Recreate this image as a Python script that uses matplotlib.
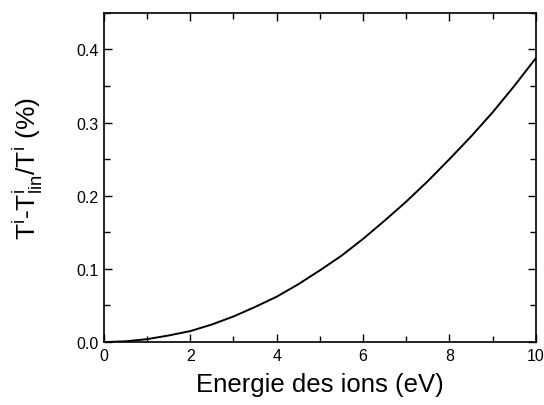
import numpy as np
from matplotlib import pyplot as plt
from matplotlib.ticker import MultipleLocator

# values
energie = [0, 0.5, 1, 1.5, 2, 2.5, 3, 3.5, 4, 4.5, 5,
           5.5, 6, 6.5, 7, 7.5, 8, 8.5, 9, 9.5, 10]
ecart = [0, 0.001, 0.004, 0.009, 0.015, 0.024, 0.035, 0.048, 0.062, 0.079, 0.098,
         0.118, 0.141, 0.166, 0.192, 0.220, 0.250, 0.281, 0.314, 0.350, 0.388]

plt.rcParams['font.family'] = ['Liberation Sans', 'DejaVu Sans']
plt.rcParams['mathtext.fontset'] = 'custom'
plt.rcParams['mathtext.rm'] = 'Liberation Sans'
plt.rcParams['mathtext.it'] = 'Liberation Sans'

fig = plt.figure(figsize=(5.44, 4.06), dpi=100)
ax = fig.add_axes([0.191, 0.155, 0.794, 0.811])

ax.plot(energie, ecart, color='black', linewidth=1.4)

ax.set_xlim(0, 10)
ax.set_ylim(0, 0.45)
ax.xaxis.set_major_locator(MultipleLocator(2))
ax.xaxis.set_minor_locator(MultipleLocator(1))
ax.yaxis.set_major_locator(MultipleLocator(0.1))
ax.yaxis.set_minor_locator(MultipleLocator(0.05))
ax.tick_params(which='both', direction='in', top=True, right=True, width=1.0,
               labelsize=11.5)
ax.tick_params(which='major', length=6, pad=4)
ax.tick_params(which='minor', length=4.5)
for s in ax.spines.values():
    s.set_linewidth(1.2)

ax.set_xlabel('Energie des ions (eV)', fontsize=18.5, labelpad=7)
ax.set_ylabel(r'T$^{\rm i}$-T$^{\rm i}_{\rm lin}$/T$^{\rm i}$ (%)', fontsize=19)
ax.yaxis.set_label_coords(-0.137, 0.53)

fig.savefig('out.png', dpi=100)
